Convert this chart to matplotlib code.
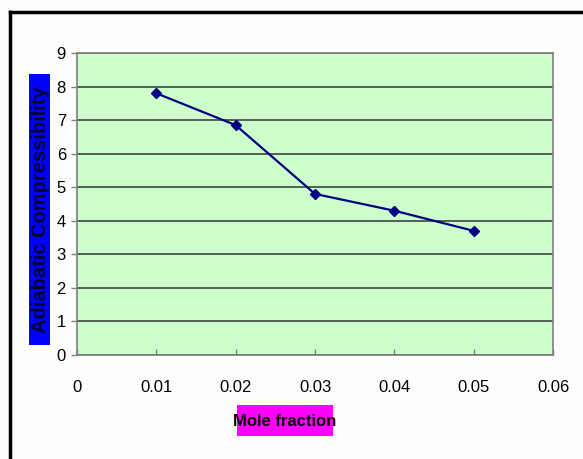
import matplotlib
matplotlib.use("Agg")
import matplotlib.pyplot as plt
from matplotlib.lines import Line2D
from matplotlib.patches import Rectangle

# data
mole_fraction = [0.01, 0.02, 0.03, 0.04, 0.05]
compressibility = [7.8, 6.85, 4.8, 4.3, 3.7]
x_ticks = [0, 0.01, 0.02, 0.03, 0.04, 0.05, 0.06]
x_tick_labels = ["0", "0.01", "0.02", "0.03", "0.04", "0.05", "0.06"]
y_ticks = list(range(0, 10))

plt.rcParams['font.family'] = ['Liberation Sans', 'DejaVu Sans']

W, H = 583, 459
fig = plt.figure(figsize=(W / 100, H / 100), dpi=100)
fig.patch.set_facecolor("#fdfdfd")


def px_box(x0, y0, x1, y1, color):
    # rectangle given in pixel coords from the top-left corner, drawn under the axes
    fig.add_artist(Rectangle((x0 / W, 1 - y1 / H), (x1 - x0) / W, (y1 - y0) / H,
                             transform=fig.transFigure, facecolor=color, edgecolor="none",
                             zorder=-1))


# outer chart frame (left and top edges only visible)
fig.add_artist(Line2D([10 / W, 10 / W], [0, 1 - 12 / H], transform=fig.transFigure,
                      color="black", lw=2.5))
fig.add_artist(Line2D([10 / W, 1], [1 - 12 / H, 1 - 12 / H], transform=fig.transFigure,
                      color="black", lw=2.5))

ax = fig.add_axes([77 / W, 104 / H, 476 / W, 302 / H])
ax.set_facecolor("#ccffcc")

ax.plot(mole_fraction, compressibility, color="#000080", lw=1.6,
        marker="D", markersize=5.5, markerfacecolor="#000080", markeredgecolor="#000080")

ax.set_xlim(0, 0.06)
ax.set_ylim(0, 9)
ax.set_xticks(x_ticks)
ax.set_xticklabels(x_tick_labels)
ax.set_yticks(y_ticks)
ax.yaxis.grid(True, color="#333333", lw=1.1)
ax.set_axisbelow(True)

for side in ["left", "right", "top", "bottom"]:
    ax.spines[side].set_color("#808080")
    ax.spines[side].set_linewidth(1.2)

ax.tick_params(axis="both", labelsize=12, colors="#808080", labelcolor="black",
               length=4, width=1)
ax.tick_params(axis="x", direction="in", pad=18)
ax.tick_params(axis="y", direction="out", pad=4)

# axis title boxes
px_box(29, 74, 50, 345, "#0000ff")
px_box(237, 405, 333, 436, "#ff00ff")

ax.set_ylabel("Adiabatic Compressibility", fontsize=14.5, fontweight="bold", color="#000033")
ax.yaxis.set_label_coords(-(77 - 41) / 476, (355 - 209.5) / 302)
ax.yaxis.label.set_verticalalignment("center")
ax.set_xlabel("Mole fraction", fontsize=12, fontweight="bold", color="black")
ax.xaxis.set_label_coords((285 - 77) / 476, -(421 - 355) / 302)
ax.xaxis.label.set_verticalalignment("center")

fig.savefig("out.png", dpi=100)
